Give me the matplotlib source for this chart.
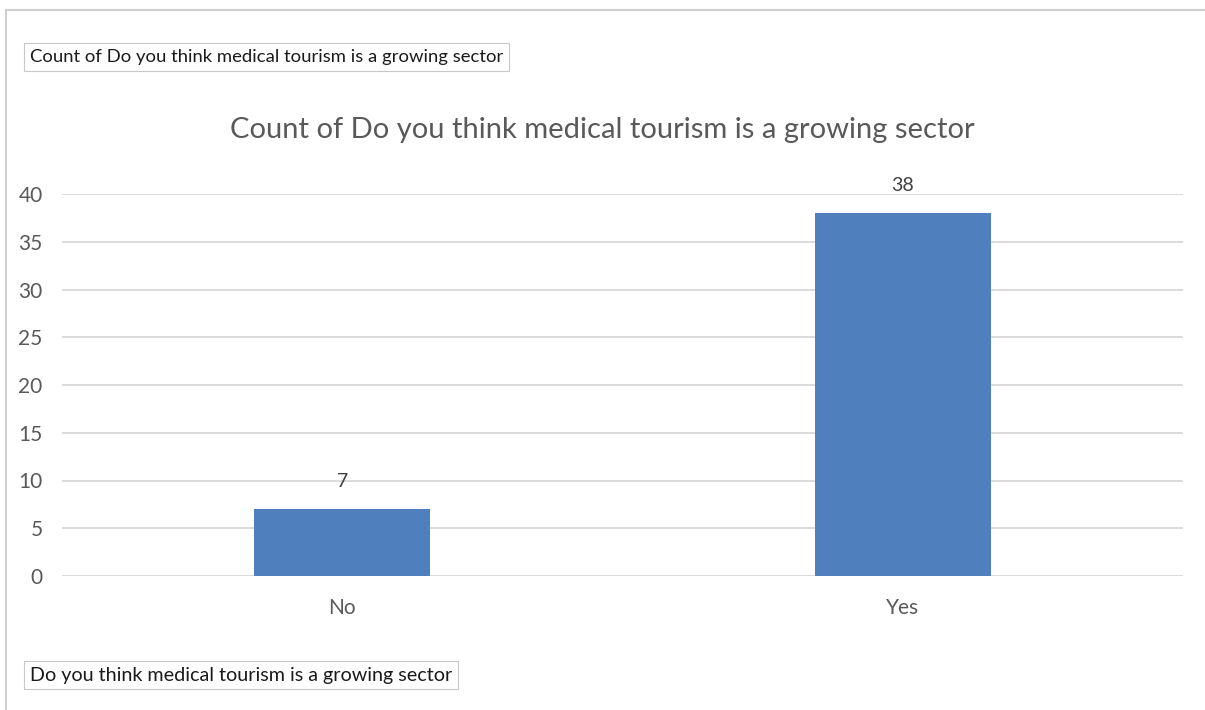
import matplotlib.pyplot as plt
from matplotlib.lines import Line2D

categories = ["No", "Yes"]
counts = [7, 38]
yticks = [0, 5, 10, 15, 20, 25, 30, 35, 40]
title = "Count of Do you think medical tourism is a growing sector"
field_label = "Do you think medical tourism is a growing sector"

plt.rcParams['font.family'] = ['Lato', 'DejaVu Sans']

fig = plt.figure(figsize=(12.05, 7.10), dpi=100)
ax = fig.add_axes([62 / 1205, 1 - 576 / 710, 1121 / 1205, 382 / 710])

bars = ax.bar(range(len(categories)), counts, width=0.314, color="#4f7fbd", zorder=3)
for rect, v in zip(bars, counts):
    ax.text(rect.get_x() + rect.get_width() / 2, v + 2.0, str(v),
            ha="center", va="bottom", fontsize=14, color="#404040")

ax.set_xlim(-0.5, 1.5)
ax.set_ylim(0, 40)
ax.set_yticks(yticks)
ax.set_xticks(range(len(categories)))
ax.set_xticklabels(categories)
ax.grid(axis="y", color="#d9d9d9", linewidth=1.3, zorder=0)
for s in ax.spines.values():
    s.set_visible(False)
ax.tick_params(length=0, labelsize=15, colors="#595959")
ax.tick_params(axis="y", pad=14)
ax.tick_params(axis="x", pad=16)

fig.text(0.5, 1 - 130 / 710, title, ha="center", va="center",
         fontsize=21, color="#595959")

# pivot field buttons
fig.text(30 / 1205, 1 - 57 / 710, title, ha="left", va="center",
         fontsize=13.3, color="#1a1a1a",
         bbox=dict(boxstyle="square,pad=0.3", fc="white", ec="#c8c8c8", lw=0.8))
fig.text(30 / 1205, 1 - 675 / 710, field_label, ha="left", va="center",
         fontsize=14.2, color="#1a1a1a",
         bbox=dict(boxstyle="square,pad=0.3", fc="white", ec="#c8c8c8", lw=0.8))

# outer chart border
fig.add_artist(Line2D([6 / 1205, 6 / 1205], [0, 1 - 10 / 710], color="#d0d0d0", lw=1.5))
fig.add_artist(Line2D([6 / 1205, 1], [1 - 10 / 710, 1 - 10 / 710], color="#d0d0d0", lw=1.5))

fig.savefig("out.png", dpi=100)
